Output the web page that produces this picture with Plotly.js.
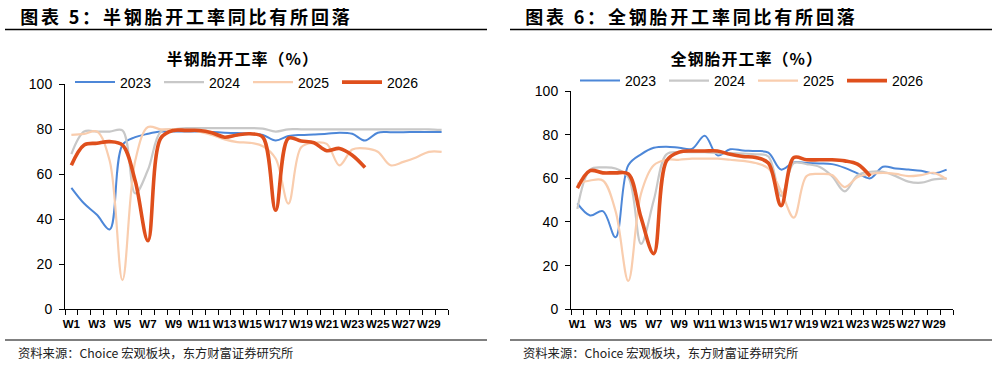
<!DOCTYPE html>
<html>
<head>
<meta charset="utf-8">
<script src="https://cdn.plot.ly/plotly-3.0.1.min.js"></script>
<style>
  html, body { margin: 0; padding: 0; background: #fff; }
  #chart { width: 997px; height: 372px; }
  /* wider tracking for the two figure headers and the chart titles */
  g.annotation[data-index="0"] text, g.annotation[data-index="1"] text { letter-spacing: 2.8px; }
  g.annotation[data-index="2"] text, g.annotation[data-index="3"] text { letter-spacing: 1px; }
</style>
</head>
<body>
<div id="chart"></div>
<script>
// Week categories and the labels shown under the axis (every other week)
const weeks = ["W1","W2","W3","W4","W5","W6","W7","W8","W9","W10",
               "W11","W12","W13","W14","W15","W16","W17","W18","W19","W20",
               "W21","W22","W23","W24","W25","W26","W27","W28","W29","W30"];
const weekLabels = ["W1","","W3","","W5","","W7","","W9","",
                    "W11","","W13","","W15","","W17","","W19","",
                    "W21","","W23","","W25","","W27","","W29",""];
const years = ["2023", "2024", "2025", "2026"];

// Semi-steel tyre operating rate (%)
const semi2023 = [54, 47, 42, 35.5, 73, 76.5, 78, 79, 79, 79, 79, 78.8, 78.5, 78.3, 78, 77.5, 75, 77, 77.5, 77.7, 78, 78.5, 78, 75, 78.5, 78.7, 78.7, 78.8, 78.8, 78.8];
const semi2024 = [69, 79, 79, 79, 79.5, 51.5, 62, 79, 80, 80.5, 80.5, 80.5, 80.5, 80.5, 80.5, 80.3, 79, 80, 80, 80, 80, 80, 80, 80, 80, 80, 80, 80, 80, 79.7];
const semi2025 = [77.5, 78, 79, 66, 13, 66, 81, 80, 80, 79.5, 79, 77.5, 75.5, 74.3, 74, 72.5, 67, 47, 72, 74, 73.5, 64, 71, 71.5, 70, 64, 65.5, 67.5, 70, 70];
const semi2026 = [64, 73, 73.8, 74.5, 73, 57, 30.5, 76, 79.5, 79.5, 79.5, 78.5, 76.5, 77.5, 78, 76.5, 44, 76, 74.8, 74, 70.5, 71.5, 68.5, 63];

// All-steel tyre operating rate (%)
const all2023 = [48.5, 43, 45, 33, 66, 71, 74, 74.5, 74, 73.5, 79.5, 70.5, 73.3, 72.8, 72.5, 71.8, 64, 67.3, 67, 66.8, 66.5, 64.8, 62.3, 60, 65.3, 64.5, 64, 63.5, 62.3, 64];
const all2024 = [46, 64, 65, 64.5, 60.5, 30, 50, 71, 72, 72, 72, 71.5, 71.5, 71.3, 71, 70, 52, 67, 66.5, 65.3, 61, 54, 61.5, 63, 63, 61, 58.5, 58, 59.5, 60];
const all2025 = [57.5, 59, 59, 45, 13, 53, 66, 68.5, 68.5, 69, 69, 69, 68.5, 68, 67, 64.5, 54, 42, 61, 62, 61.5, 56, 60.5, 62, 62.5, 62, 61, 61.5, 62.5, 59.5];
const all2026 = [55.5, 63.5, 62.5, 62.5, 62, 42, 25.5, 68, 72, 72.5, 72.5, 72.5, 71, 70, 69.5, 67, 47.5, 69.5, 68.5, 68.5, 68.5, 68, 66.5, 61];

const colors = ["#4d87d8", "#c8c8c8", "#f9cdae", "#df4f1c"];
const widths = [2, 2.2, 2.2, 3.6];

const W = 997, H = 372;
const px = v => v / W;
const py = v => (H - v) / H;

function series(ys, i, xa, ya, leg) {
  return {
    type: "scatter", mode: "lines",
    x: weeks.slice(0, ys.length), y: ys,
    name: years[i],
    xaxis: xa, yaxis: ya, legend: leg,
    line: { color: colors[i], width: widths[i], shape: "spline", smoothing: 1 },
    hoverinfo: "x+y+name"
  };
}

const semiSets = [semi2023, semi2024, semi2025, semi2026];
const allSets = [all2023, all2024, all2025, all2026];
const traces = [];
semiSets.forEach((s, i) => traces.push(series(s, i, "x", "y", "legend")));
allSets.forEach((s, i) => traces.push(series(s, i, "x2", "y2", "legend2")));

const xBase = {
  type: "category", categoryarray: weeks, range: [-0.5, 29.5],
  tickmode: "array", tickvals: weeks, ticktext: weekLabels,
  tickson: "boundaries", ticks: "outside", ticklen: 5, tickcolor: "#000", tickwidth: 1,
  showline: true, linecolor: "#000", linewidth: 1,
  showgrid: false, zeroline: false, ticklabelstandoff: 4,
  tickfont: { family: "Liberation Sans Narrow, Arial Narrow, Arial", size: 11.5, color: "#000", weight: "bold" },
  tickangle: 0, fixedrange: true
};
const yBase = {
  range: [0, 100], dtick: 20, tick0: 0,
  ticks: "outside", ticklen: 5, tickcolor: "#000", tickwidth: 1,
  showline: true, linecolor: "#000", linewidth: 1,
  showgrid: false, zeroline: false, ticklabelstandoff: 4,
  tickfont: { family: "Liberation Sans, Arial", size: 14, color: "#000" },
  fixedrange: true
};

const legBase = {
  orientation: "h", xanchor: "left", yanchor: "middle",
  font: { family: "Liberation Sans, Arial", size: 14, color: "#000" },
  bgcolor: "rgba(0,0,0,0)", entrywidth: 34, entrywidthmode: "pixels",
  itemwidth: 40, tracegroupgap: 0
};

const cjk = "Noto Sans CJK SC, sans-serif";
const layout = {
  width: W, height: H,
  margin: { l: 0, r: 0, t: 0, b: 0, autoexpand: false },
  paper_bgcolor: "#fff", plot_bgcolor: "#fff",
  xaxis: Object.assign({}, xBase, { domain: [px(65), px(448)], anchor: "y" }),
  yaxis: Object.assign({}, yBase, { domain: [py(309.3), py(84.3)], anchor: "x" }),
  xaxis2: Object.assign({}, xBase, { domain: [px(571), px(953)], anchor: "y2" }),
  yaxis2: Object.assign({}, yBase, { domain: [py(309.3), py(91)], anchor: "x2" }),
  legend: Object.assign({}, legBase, { x: px(70), y: py(82.5) }),
  legend2: Object.assign({}, legBase, { x: px(575), y: py(81) }),
  showlegend: true,
  annotations: [
    // headers: x compensates for the extra tracking added around the centre
    { text: "图表 5：半钢胎开工率同比有所回落", xref: "paper", yref: "paper", x: px(41.8), y: py(16),
      xanchor: "left", yanchor: "middle", showarrow: false,
      font: { family: cjk, size: 18, color: "#000", weight: "bold" } },
    { text: "图表 6：全钢胎开工率同比有所回落", xref: "paper", yref: "paper", x: px(546.8), y: py(16),
      xanchor: "left", yanchor: "middle", showarrow: false,
      font: { family: cjk, size: 18, color: "#000", weight: "bold" } },
    { text: "半钢胎开工率（%）", xref: "paper", yref: "paper", x: px(242), y: py(58),
      xanchor: "center", yanchor: "middle", showarrow: false,
      font: { family: cjk, size: 16, color: "#000", weight: "bold" } },
    { text: "全钢胎开工率（%）", xref: "paper", yref: "paper", x: px(746), y: py(58),
      xanchor: "center", yanchor: "middle", showarrow: false,
      font: { family: cjk, size: 16, color: "#000", weight: "bold" } },
    { text: "资料来源：Choice 宏观板块，东方财富证券研究所", xref: "paper", yref: "paper", x: px(16), y: py(353),
      xanchor: "left", yanchor: "middle", showarrow: false,
      font: { family: cjk, size: 12.3, color: "#222" } },
    { text: "资料来源：Choice 宏观板块，东方财富证券研究所", xref: "paper", yref: "paper", x: px(521), y: py(353),
      xanchor: "left", yanchor: "middle", showarrow: false,
      font: { family: cjk, size: 12.3, color: "#222" } }
  ],
  shapes: [
    { type: "line", xref: "paper", yref: "paper", x0: px(5), x1: px(487), y0: py(29.5), y1: py(29.5), line: { color: "#000", width: 1.3 } },
    { type: "line", xref: "paper", yref: "paper", x0: px(510), x1: px(992), y0: py(29.5), y1: py(29.5), line: { color: "#000", width: 1.3 } },
    { type: "line", xref: "paper", yref: "paper", x0: px(5), x1: px(487), y0: py(340), y1: py(340), line: { color: "#000", width: 1 } },
    { type: "line", xref: "paper", yref: "paper", x0: px(510), x1: px(992), y0: py(340), y1: py(340), line: { color: "#000", width: 1 } }
  ]
};

Plotly.newPlot("chart", traces, layout, { displayModeBar: false, staticPlot: true });
</script>
</body>
</html>
